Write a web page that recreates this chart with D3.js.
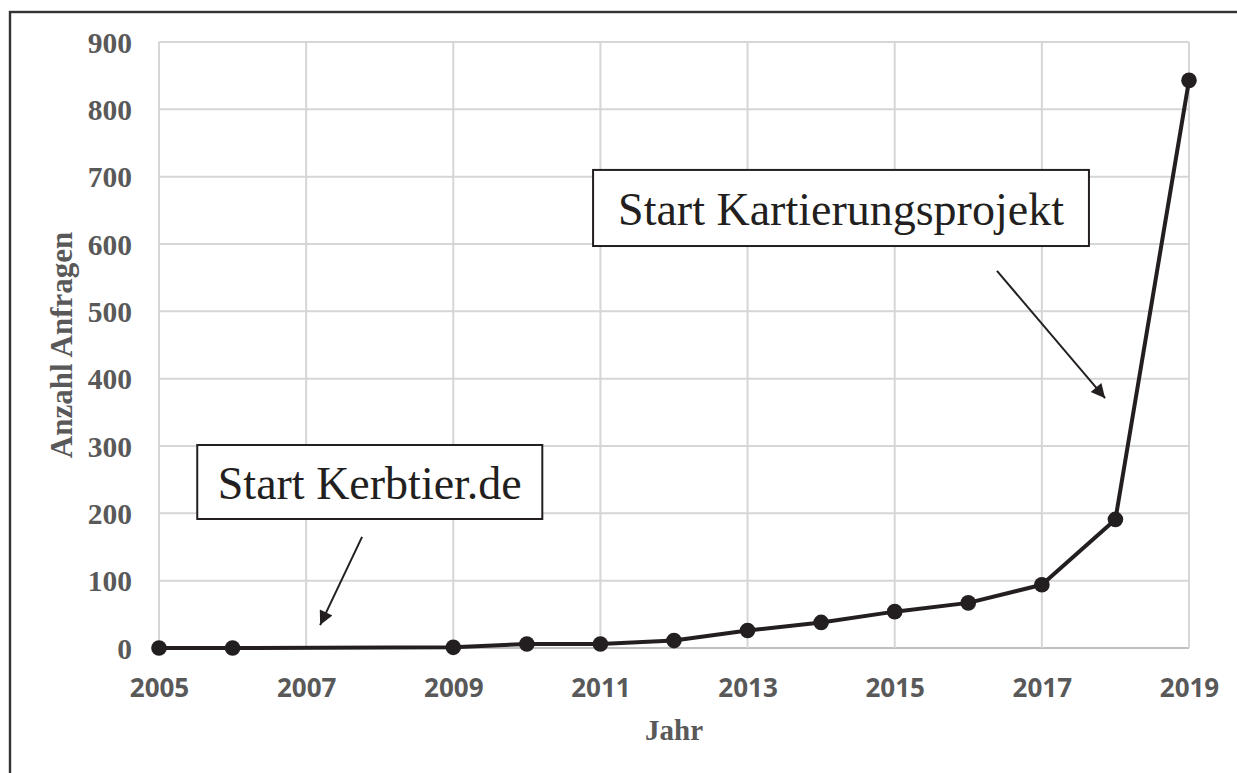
<!DOCTYPE html>
<html>
<head>
<meta charset="utf-8">
<script src="https://cdn.jsdelivr.net/npm/d3@7"></script>
<style>
  html, body { margin: 0; padding: 0; background: #fff; }
  svg { display: block; }
</style>
</head>
<body>
<div id="chart"></div>
<script>
// data
var years = [2005, 2006, 2009, 2010, 2011, 2012, 2013, 2014, 2015, 2016, 2017, 2018, 2019]
var anfragen = [0, 0, 1, 6, 6, 11, 26, 38, 54, 67, 94, 191, 843]
var xTicks = [2005, 2007, 2009, 2011, 2013, 2015, 2017, 2019]
var yTicks = [0, 100, 200, 300, 400, 500, 600, 700, 800, 900]

// annotation boxes + arrows, in data units
var notes = [
  {text: "Start Kerbtier.de", x0: 2005.52, x1: 2010.21, y0: 191.6, y1: 301.5,
   from: [2007.76, 165], to: [2007.19, 34]},
  {text: "Start Kartierungsprojekt", x0: 2010.9, x1: 2017.64, y0: 597, y1: 710,
   from: [2016.39, 560], to: [2017.86, 371]}
]

var width = 1237, height = 773
var data = years.map(function(d, i){ return {year: d, value: anfragen[i]} })

var svg = d3.select("#chart").append("svg")
    .attr("width", width)
    .attr("height", height)

// outer frame (cut off at right/bottom like the scan)
svg.append("rect")
    .attr("x", 10).attr("y", 12)
    .attr("width", 1300).attr("height", 800)
    .attr("fill", "none")
    .attr("stroke", "#333")
    .attr("stroke-width", 2.4)

var x = d3.scaleLinear().domain([2005, 2019]).range([159, 1189])
var y = d3.scaleLinear().domain([0, 900]).range([648, 42])

svg.append("defs").append("marker")
    .attr("id", "head")
    .attr("viewBox", "0 0 10 10")
    .attr("refX", 10).attr("refY", 5)
    .attr("markerWidth", 8.5).attr("markerHeight", 7)
    .attr("markerUnits", "strokeWidth")
    .attr("orient", "auto")
  .append("path")
    .attr("d", "M0,0L10,5L0,10Z")
    .attr("fill", "#231f20")

// grid
svg.append("g").selectAll("line").data(yTicks).join("line")
    .attr("x1", x(2005)).attr("x2", x(2019))
    .attr("y1", d => y(d)).attr("y2", d => y(d))
    .attr("stroke", d => d == 0 ? "#bfbfbf" : "#d6d6d6")
    .attr("stroke-width", 2)
svg.append("g").selectAll("line").data(xTicks).join("line")
    .attr("x1", d => x(d)).attr("x2", d => x(d))
    .attr("y1", y(0)).attr("y2", y(900))
    .attr("stroke", "#d6d6d6")
    .attr("stroke-width", 2)

// axes
var yAxis = svg.append("g")
    .attr("transform", "translate(" + (x(2005) - 27) + ",0)")
    .call(d3.axisLeft(y).tickValues(yTicks).tickSize(0).tickPadding(0))
yAxis.select(".domain").remove()
yAxis.selectAll("text")
    .attr("font-family", "'Liberation Serif', 'Times New Roman', serif")
    .attr("font-weight", "bold")
    .attr("font-size", 29.5)
    .attr("fill", "#595959")
    .attr("dy", "0.34em")

var xAxis = svg.append("g")
    .attr("transform", "translate(0," + y(0) + ")")
    .call(d3.axisBottom(x).tickValues(xTicks).tickFormat(d3.format("d")).tickSize(0).tickPadding(0))
xAxis.select(".domain").remove()
xAxis.selectAll("text")
    .attr("font-family", "'Open Sans', sans-serif")
    .attr("font-weight", "bold")
    .attr("font-size", 26)
    .attr("fill", "#595959")
    .attr("y", 0)
    .attr("dy", 49)

// axis titles
svg.append("text")
    .attr("x", (x(2005) + x(2019)) / 2)
    .attr("y", 740)
    .attr("text-anchor", "middle")
    .attr("font-family", "'Liberation Serif', serif")
    .attr("font-weight", "bold")
    .attr("font-size", 29)
    .attr("fill", "#595959")
    .text("Jahr")
svg.append("text")
    .attr("transform", "translate(72," + y(450) + ") rotate(-90)")
    .attr("text-anchor", "middle")
    .attr("font-family", "'Liberation Serif', serif")
    .attr("font-weight", "bold")
    .attr("font-size", 31)
    .attr("fill", "#595959")
    .text("Anzahl Anfragen")

// line + points
var line = d3.line().x(d => x(d.year)).y(d => y(d.value))
svg.append("path")
    .datum(data)
    .attr("d", line)
    .attr("fill", "none")
    .attr("stroke", "#231f20")
    .attr("stroke-width", 4)
    .attr("stroke-linejoin", "round")
svg.append("g").selectAll("circle").data(data).join("circle")
    .attr("cx", d => x(d.year))
    .attr("cy", d => y(d.value))
    .attr("r", 7.8)
    .attr("fill", "#231f20")

// annotations
var ann = svg.append("g").selectAll("g").data(notes).join("g")
ann.append("rect")
    .attr("x", d => x(d.x0))
    .attr("y", d => y(d.y1))
    .attr("width", d => x(d.x1) - x(d.x0))
    .attr("height", d => y(d.y0) - y(d.y1))
    .attr("fill", "#fff")
    .attr("stroke", "#231f20")
    .attr("stroke-width", 2)
ann.append("text")
    .attr("x", d => (x(d.x0) + x(d.x1)) / 2)
    .attr("y", d => (y(d.y0) + y(d.y1)) / 2 + 17)
    .attr("text-anchor", "middle")
    .attr("font-family", "'Liberation Serif', 'Times New Roman', serif")
    .attr("font-size", 46)
    .attr("fill", "#231f20")
    .text(d => d.text)
ann.append("line")
    .attr("x1", d => x(d.from[0])).attr("y1", d => y(d.from[1]))
    .attr("x2", d => x(d.to[0])).attr("y2", d => y(d.to[1]))
    .attr("stroke", "#231f20")
    .attr("stroke-width", 2)
    .attr("marker-end", "url(#head)")
</script>
</body>
</html>
